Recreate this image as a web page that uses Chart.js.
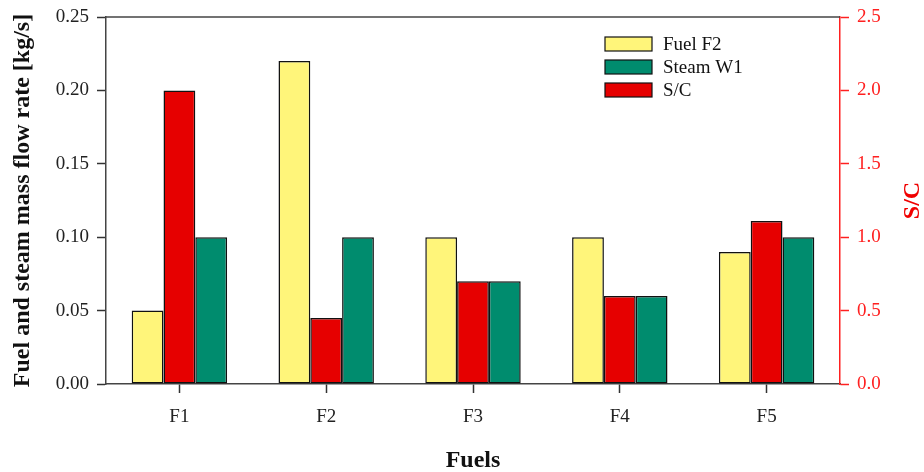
<!DOCTYPE html>
<html>
<head>
<meta charset="utf-8">
<script src="https://cdn.jsdelivr.net/npm/chart.js@4"></script>
<style>
  html, body { margin: 0; padding: 0; background: #fff; }
  #wrap { width: 924px; height: 472px; }
</style>
</head>
<body>
<div id="wrap"><canvas id="myChart"></canvas></div>
<script>
const fuels = ['F1', 'F2', 'F3', 'F4', 'F5'];
const fuelF2 = [0.05, 0.22, 0.10, 0.10, 0.09];
const steamW1 = [0.10, 0.10, 0.07, 0.06, 0.10];
const sc = [2.0, 0.45, 0.70, 0.60, 1.11];
const legendOrder = ['Fuel F2', 'Steam W1', 'S/C'];
const rightTitle = 'S/C';

const serif = '"Liberation Serif", "Times New Roman", serif';
const red = '#ff2020';

// top line, right title (reads upward) and legend inside the plot
const boxLegend = {
  id: 'boxLegend',
  afterDraw(chart) {
    const ctx = chart.ctx;
    const a = chart.chartArea;
    ctx.save();
    ctx.strokeStyle = '#444';
    ctx.lineWidth = 1.5;
    ctx.beginPath();
    ctx.moveTo(a.left, a.top);
    ctx.lineTo(a.right, a.top);
    ctx.stroke();

    ctx.save();
    ctx.translate(913, (a.top + a.bottom) / 2);
    ctx.rotate(-Math.PI / 2);
    ctx.fillStyle = '#f00000';
    ctx.font = 'bold 24px ' + serif;
    ctx.textAlign = 'center';
    ctx.textBaseline = 'middle';
    ctx.fillText(rightTitle, 0, 0);
    ctx.restore();

    let y = a.top + 20;
    legendOrder.forEach(name => {
      const ds = chart.data.datasets.find(d => d.label == name);
      ctx.fillStyle = ds.backgroundColor;
      ctx.fillRect(605, y, 47, 14);
      ctx.strokeStyle = '#111';
      ctx.lineWidth = 1.2;
      ctx.strokeRect(605, y, 47, 14);
      ctx.fillStyle = '#111';
      ctx.font = '19px ' + serif;
      ctx.textBaseline = 'middle';
      ctx.textAlign = 'left';
      ctx.fillText(name, 663, y + 8);
      y += 23;
    });
    ctx.restore();
  }
};

const ctx = document.getElementById('myChart');

const barStyle = { borderColor: '#111', borderWidth: 1.5, borderSkipped: false };

new Chart(ctx, {
  type: 'bar',
  data: {
    labels: fuels,
    datasets: [
      Object.assign({ label: 'Fuel F2', data: fuelF2, yAxisID: 'y', backgroundColor: '#fff57a' }, barStyle),
      Object.assign({ label: 'S/C', data: sc, yAxisID: 'y1', backgroundColor: '#e60000' }, barStyle),
      Object.assign({ label: 'Steam W1', data: steamW1, yAxisID: 'y', backgroundColor: '#008c6e' }, barStyle)
    ]
  },
  options: {
    responsive: true,
    maintainAspectRatio: false,
    animation: false,
    categoryPercentage: 0.65,
    barPercentage: 1.0,
    layout: { padding: { top: 17, left: 4, right: 0, bottom: 0 } },
    plugins: {
      legend: { display: false },
      tooltip: { enabled: false }
    },
    scales: {
      x: {
        grid: { offset: false, drawOnChartArea: false, tickLength: 9, color: '#333', tickWidth: 1.5 },
        border: { color: '#444', width: 1.5 },
        ticks: { color: '#222', font: { family: serif, size: 19 }, padding: 13 },
        title: { display: true, text: 'Fuels', color: '#111', font: { family: serif, size: 24, weight: 'bold' }, padding: { top: 22, bottom: -3 } },
        afterFit(scale) { scale.height = 88; }
      },
      y: {
        position: 'left',
        min: 0,
        max: 0.25,
        grid: { drawOnChartArea: false, tickLength: 9, color: '#333', tickWidth: 1.5 },
        border: { color: '#444', width: 1.5 },
        ticks: {
          stepSize: 0.05,
          color: '#222',
          font: { family: serif, size: 19 },
          padding: 8,
          callback: v => v.toFixed(2)
        },
        title: { display: true, text: 'Fuel and steam mass flow rate [kg/s]', color: '#111', font: { family: serif, size: 24, weight: 'bold' }, padding: { bottom: 2 } },
        afterFit(scale) { scale.width = 102; scale.paddingTop = 4; }
      },
      y1: {
        position: 'right',
        min: 0,
        max: 2.5,
        grid: { drawOnChartArea: false, tickLength: 9, color: red, tickWidth: 1.5 },
        border: { color: red, width: 1.5 },
        ticks: {
          stepSize: 0.5,
          color: red,
          font: { family: serif, size: 19 },
          padding: 8,
          callback: v => v.toFixed(1)
        },
        afterFit(scale) { scale.width = 84; scale.paddingTop = 4; }
      }
    }
  },
  plugins: [boxLegend]
});
</script>
</body>
</html>
